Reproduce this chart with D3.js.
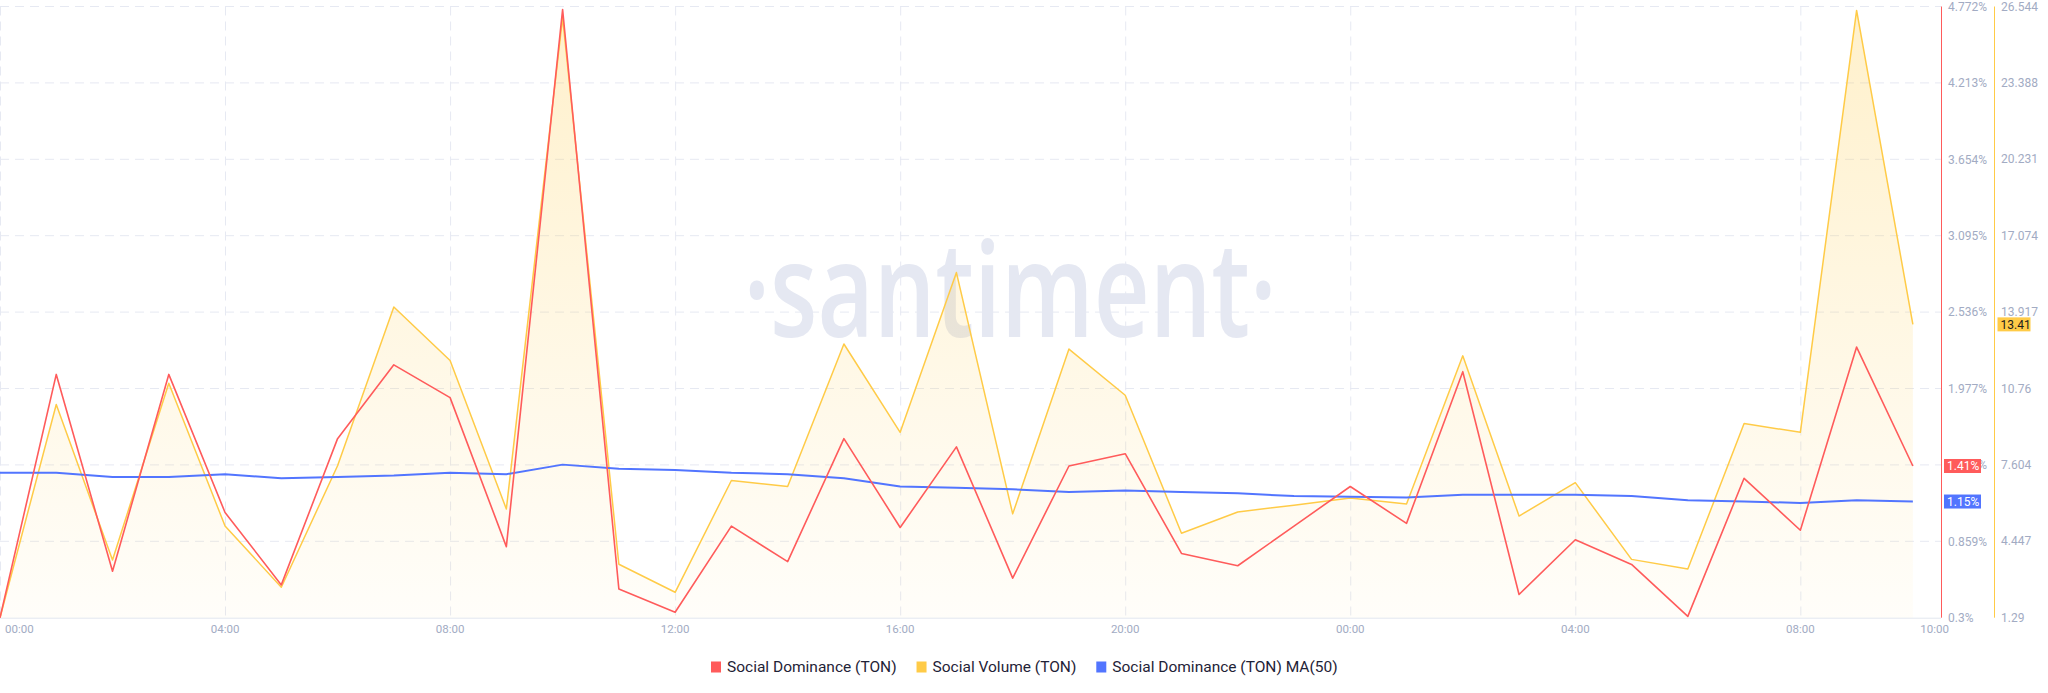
<!DOCTYPE html>
<html>
<head>
<meta charset="utf-8">
<script src="https://cdn.jsdelivr.net/npm/d3@7/dist/d3.min.js"></script>
<style>
  body { margin: 0; background: #fff; }
  svg { display: block; font-family: Roboto, "Open Sans", sans-serif; }
</style>
</head>
<body>
<svg id="chart" width="2048" height="693"></svg>
<script>

// hourly points, 00:00 day one to 10:00 day two
var startTime = new Date(Date.UTC(2024, 0, 1, 0, 0));
var hours = d3.range(35);

// Social Dominance (TON), %
var socialDominance = [0.30, 2.08, 0.64, 2.08, 1.07, 0.54, 1.61, 2.15, 1.91, 0.82,
  4.75, 0.51, 0.34, 0.97, 0.71, 1.61, 0.96, 1.55, 0.59, 1.41,
  1.50, 0.77, 0.68, 0.97, 1.26, 0.99, 2.10, 0.47, 0.87, 0.69,
  0.31, 1.32, 0.94, 2.28, 1.41];

// Social Volume (TON)
var socialVolume = [1.29, 10.10, 3.67, 10.98, 5.08, 2.55, 7.57, 14.13, 11.92, 5.78,
  26.09, 3.50, 2.34, 6.96, 6.71, 12.60, 8.95, 15.55, 5.58, 12.39,
  10.48, 4.78, 5.66, 5.94, 6.24, 5.99, 12.11, 5.49, 6.87, 3.70,
  3.30, 9.31, 8.95, 26.38, 13.41];

// Social Dominance (TON) MA(50)
var dominanceMA = [1.36, 1.36, 1.33, 1.33, 1.35, 1.32, 1.33, 1.34, 1.36, 1.35,
  1.42, 1.39, 1.38, 1.36, 1.35, 1.32, 1.26, 1.25, 1.24, 1.22,
  1.23, 1.22, 1.21, 1.19, 1.185, 1.18, 1.20, 1.20, 1.20, 1.19,
  1.16, 1.15, 1.14, 1.16, 1.15];

// axis ticks
var dominanceTicks = [0.3, 0.859, 1.418, 1.977, 2.536, 3.095, 3.654, 4.213, 4.772];
var volumeTicks = [1.29, 4.447, 7.604, 10.76, 13.917, 17.074, 20.231, 23.388, 26.544];
var volumeTickLabels = ["1.29", "4.447", "7.604", "10.76", "13.917", "17.074", "20.231", "23.388", "26.544"];

var legendNames = ["Social Dominance (TON)", "Social Volume (TON)", "Social Dominance (TON) MA(50)"];
var colors = ["#ff5b5b", "#ffcb47", "#5275ff"];

var lastLabels = ["1.41%", "13.41", "1.15%"];

var times = hours.map(function (h) { return d3.utcHour.offset(startTime, h); });

var plot = {left: 0, right: 1941, top: 6.5, bottom: 617.7};
var tickColor = "#a2abc3", gridColor = "#e6e9f2";

var svg = d3.select("#chart");

var x = d3.scaleUtc()
  .domain([times[0], d3.utcMinute.offset(times[times.length - 1], 30)])
  .range([plot.left, plot.right]);
var yDom = d3.scaleLinear().domain([0.3, 4.772]).range([plot.bottom, plot.top]);
var yVol = d3.scaleLinear().domain([1.29, 26.544]).range([plot.bottom, plot.top]);

// gradient for volume area
var grad = svg.append("defs").append("linearGradient")
  .attr("id", "volFill").attr("x1", 0).attr("y1", 0).attr("x2", 0).attr("y2", 1);
grad.append("stop").attr("offset", "0%").attr("stop-color", "#ffcb47").attr("stop-opacity", 0.28);
grad.append("stop").attr("offset", "100%").attr("stop-color", "#ffcb47").attr("stop-opacity", 0.03);

// grid
var grid = svg.append("g");
grid.selectAll("line.h")
  .data(dominanceTicks.slice(1))
  .enter().append("line")
  .attr("class", "h")
  .attr("x1", plot.left).attr("x2", plot.right)
  .attr("y1", function (d) { return yDom(d); })
  .attr("y2", function (d) { return yDom(d); })
  .attr("stroke", gridColor).attr("stroke-dasharray", "9,6");

var xTicks = x.ticks(d3.utcHour.every(4));
grid.selectAll("line.v")
  .data(xTicks)
  .enter().append("line")
  .attr("class", "v")
  .attr("x1", function (d) { return x(d) + 0.5; })
  .attr("x2", function (d) { return x(d) + 0.5; })
  .attr("y1", plot.top).attr("y2", plot.bottom)
  .attr("stroke", gridColor).attr("stroke-dasharray", "9,6");

// watermark
svg.append("text")
  .attr("x", 1010).attr("y", 337)
  .attr("text-anchor", "middle")
  .attr("font-family", "'Open Sans', sans-serif")
  .attr("font-weight", 600)
  .attr("font-size", 132)
  .attr("textLength", 533)
  .attr("lengthAdjust", "spacingAndGlyphs")
  .attr("fill", "#e5e8f2")
  .text("\u00b7santiment\u00b7");

// bottom axis line
svg.append("line")
  .attr("x1", plot.left).attr("x2", plot.right)
  .attr("y1", plot.bottom + 0.5).attr("y2", plot.bottom + 0.5)
  .attr("stroke", "#e3e7ef");

// volume area + lines
var area = d3.area()
  .x(function (d, i) { return x(times[i]); })
  .y0(plot.bottom)
  .y1(function (d) { return yVol(d); });

svg.append("path")
  .datum(socialVolume)
  .attr("d", area)
  .attr("fill", "url(#volFill)");

function drawLine(values, scale, color, w) {
  var line = d3.line()
    .x(function (d, i) { return x(times[i]); })
    .y(function (d) { return scale(d); });
  svg.append("path")
    .datum(values)
    .attr("d", line)
    .attr("fill", "none")
    .attr("stroke", color)
    .attr("stroke-width", w)
    .attr("stroke-linejoin", "round");
}

drawLine(socialVolume, yVol, colors[1], 1.5);
drawLine(dominanceMA, yDom, colors[2], 2);
drawLine(socialDominance, yDom, colors[0], 1.6);

// right axes
svg.append("line")
  .attr("x1", 1941.5).attr("x2", 1941.5)
  .attr("y1", plot.top).attr("y2", plot.bottom)
  .attr("stroke", colors[0]);
svg.append("line")
  .attr("x1", 1994.5).attr("x2", 1994.5)
  .attr("y1", plot.top).attr("y2", plot.bottom)
  .attr("stroke", colors[1]);

svg.append("g").selectAll("text")
  .data(dominanceTicks)
  .enter().append("text")
  .attr("x", 1948)
  .attr("y", function (d) { return yDom(d); })
  .attr("dy", "0.35em")
  .attr("font-size", 12)
  .attr("fill", tickColor)
  .text(function (d) { return d + "%"; });

svg.append("g").selectAll("text")
  .data(volumeTicks)
  .enter().append("text")
  .attr("x", 2001)
  .attr("y", function (d) { return yVol(d); })
  .attr("dy", "0.35em")
  .attr("font-size", 12)
  .attr("fill", tickColor)
  .text(function (d, i) { return volumeTickLabels[i]; });

// x labels
var fmt = d3.utcFormat("%H:%M");
var xLabels = xTicks.concat([times[times.length - 1]]);
svg.append("g").selectAll("text")
  .data(xLabels)
  .enter().append("text")
  .attr("x", function (d, i) {
    if (i === 0) return x(d) + 5;
    if (i === xLabels.length - 1) return plot.right + 8;
    return x(d);
  })
  .attr("y", 629)
  .attr("dy", "0.35em")
  .attr("text-anchor", function (d, i) {
    if (i === 0) return "start";
    if (i === xLabels.length - 1) return "end";
    return "middle";
  })
  .attr("font-size", 11.5)
  .attr("fill", tickColor)
  .text(function (d) { return fmt(d); });

// last value badges
var last = socialDominance.length - 1;
var badges = [
  {x: 1944, w: 37, y: yDom(socialDominance[last]), fill: colors[0], text: lastLabels[0], color: "#fff"},
  {x: 1997.5, w: 33, y: yVol(socialVolume[last]), fill: colors[1], text: lastLabels[1], color: "#1c1c1c"},
  {x: 1944, w: 37, y: yDom(dominanceMA[last]), fill: colors[2], text: lastLabels[2], color: "#fff"}
];
var badge = svg.append("g").selectAll("g")
  .data(badges)
  .enter().append("g");
badge.append("rect")
  .attr("x", function (d) { return d.x; })
  .attr("y", function (d) { return d.y - 7; })
  .attr("width", function (d) { return d.w; })
  .attr("height", 14)
  .attr("fill", function (d) { return d.fill; });
badge.append("text")
  .attr("x", function (d) { return d.x + 3; })
  .attr("y", function (d) { return d.y; })
  .attr("dy", "0.36em")
  .attr("font-size", 12)
  .attr("fill", function (d) { return d.color; })
  .text(function (d) { return d.text; });

// legend
var legend = svg.append("g");
var lx = 0;
legendNames.forEach(function (name, i) {
  var item = legend.append("g").attr("transform", "translate(" + lx + ",0)");
  item.append("rect")
    .attr("x", 0).attr("y", 661.5)
    .attr("width", 10).attr("height", 11)
    .attr("fill", colors[i]);
  var t = item.append("text")
    .attr("x", 16).attr("y", 667)
    .attr("dy", "0.35em")
    .attr("font-size", 15.5)
    .attr("fill", "#1f2337")
    .text(name);
  lx += 16 + t.node().getComputedTextLength() + 20;
});
var lw = lx - 20;
legend.attr("transform", "translate(" + Math.round(1024 - lw / 2) + ",0)");

</script>
</body>
</html>
